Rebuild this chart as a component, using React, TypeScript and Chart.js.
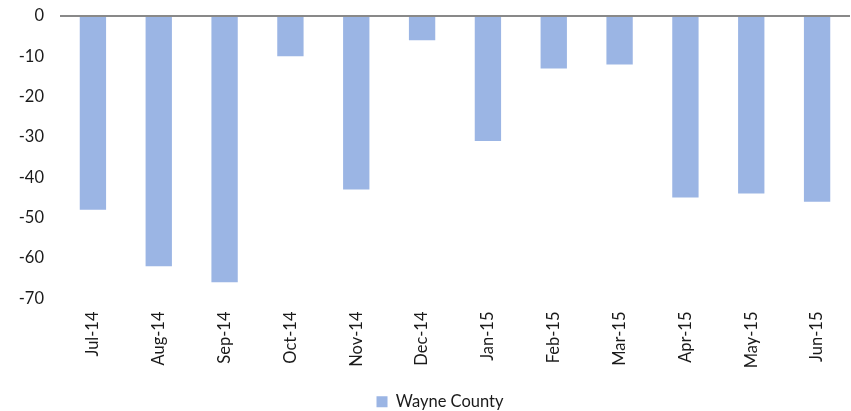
import React, { useEffect, useRef } from "react";
import { Chart, registerables } from "chart.js";

Chart.register(...registerables);

const categories = ["Jul-14", "Aug-14", "Sep-14", "Oct-14", "Nov-14", "Dec-14", "Jan-15", "Feb-15", "Mar-15", "Apr-15", "May-15", "Jun-15"];
const wayneCounty = [-48, -62, -66, -10, -43, -6, -31, -13, -12, -45, -44, -46];
const seriesName = "Wayne County";
const yMin = -70;
const yMax = 0;
const yStep = 10;

const FONT = "Lato, 'Open Sans', sans-serif";
const FS = 16.5;

const legendShift = {
  id: "legendShift",
  afterUpdate(chart: any) {
    const l = chart.legend;
    if (l) {
      l.left += 15;
      l.right += 15;
    }
  },
};

export default function App() {
  const ref = useRef<HTMLCanvasElement | null>(null);
  useEffect(() => {
    document.body.style.margin = "0";
    const canvas = ref.current;
    if (!canvas) return;
    const chart = new Chart(canvas, {
      type: "bar",
      data: {
        labels: categories,
        datasets: [
          {
            label: seriesName,
            data: wayneCounty,
            backgroundColor: "#9BB5E4",
            borderWidth: 0,
            barPercentage: 0.4,
            categoryPercentage: 1,
          },
        ],
      },
      plugins: [legendShift],
      options: {
        animation: false,
        responsive: false,
        maintainAspectRatio: false,
        layout: { padding: { top: 16, right: 1, left: 0, bottom: -9 } },
        plugins: {
          legend: {
            position: "bottom",
            labels: {
              boxWidth: 11,
              boxHeight: 11,
              color: "#1a1a1a",
              font: { family: FONT, size: FS },
              padding: 4,
            },
          },
          tooltip: { enabled: false },
        },
        scales: {
          x: {
            grid: { display: false },
            border: { display: false },
            ticks: {
              minRotation: 90,
              maxRotation: 90,
              color: "#1a1a1a",
              font: { family: FONT, size: FS },
              padding: 5,
            },
            afterFit: (s: any) => {
              s.height = 91;
            },
          },
          y: {
            min: yMin,
            max: yMax,
            border: { display: false },
            grid: {
              drawTicks: false,
              color: (c: any) => (c.tick && c.tick.value === 0 ? "#898989" : "rgba(0,0,0,0)"),
              lineWidth: 2,
            },
            ticks: {
              stepSize: yStep,
              color: "#1a1a1a",
              font: { family: FONT, size: FS },
              padding: 16,
            },
            afterFit: (s: any) => {
              s.width = 60;
              s.paddingTop = 8;
              s.paddingBottom = 8;
            },
          },
        },
      },
    });
    return () => chart.destroy();
  }, []);
  return (
    <div style={{ width: 851, height: 411 }}>
      <canvas ref={ref} width={851} height={411} style={{ display: "block" }} />
    </div>
  );
}
